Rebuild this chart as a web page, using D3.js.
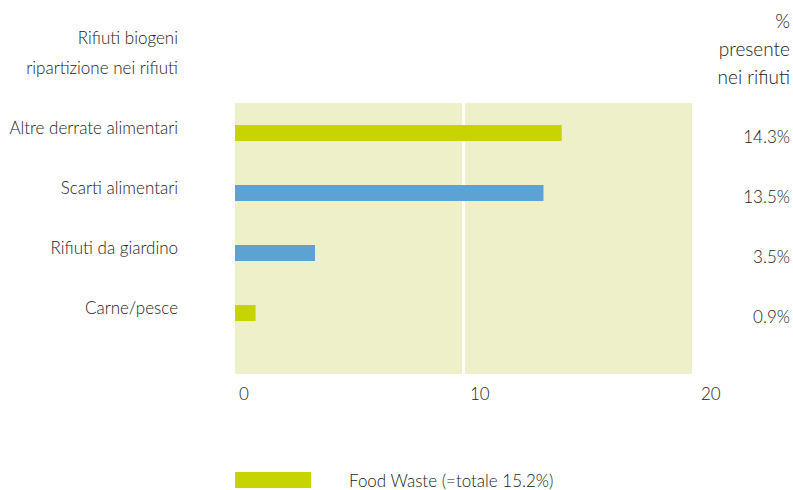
<!DOCTYPE html>
<html><head><meta charset="utf-8">
<script src="https://cdn.jsdelivr.net/npm/d3@7"></script>
<style>body{margin:0;background:#fff}text{font-family:Lato,"Open Sans",sans-serif;font-weight:300;fill:#222;font-size:17px}</style>
</head><body><svg id="c" width="793" height="490"></svg>
<script>
const categories = ["Altre derrate alimentari","Scarti alimentari","Rifiuti da giardino","Carne/pesce"];
const values = [14.3, 13.5, 3.5, 0.9];
const valueLabels = ["14.3%","13.5%","3.5%","0.9%"];
const isFoodWaste = [true, false, false, true];
const xTicks = [0, 10, 20];
const legendLabel = "Food Waste (=totale 15.2%)";
const headerLeft = ["Rifiuti biogeni","ripartizione nei rifiuti"];
const headerRight = ["%","presente","nei rifiuti"];

const GREEN="#c8d400", BLUE="#5ca2d3", BG="#edf0c8";
const svg = d3.select("#c");
const x = d3.scaleLinear().domain([0,20]).range([235,692]);
const y = d3.scaleBand().domain(categories).range([103,343]).padding(0);
const plotBottom = 374, barH = 16;

svg.append("rect").attr("x",x(0)).attr("y",103).attr("width",x(20)-x(0)).attr("height",plotBottom-103).attr("fill",BG);
svg.selectAll("line.grid").data(xTicks.filter(t=>t>0&&t<20)).enter().append("line")
  .attr("x1",d=>x(d)).attr("x2",d=>x(d)).attr("y1",103).attr("y2",plotBottom)
  .attr("stroke","#fff").attr("stroke-width",3);

svg.selectAll("rect.bar").data(categories).enter().append("rect")
  .attr("x",x(0)).attr("y",d=>y(d)+y.bandwidth()/2-barH/2)
  .attr("width",(d,i)=>x(values[i])-x(0)).attr("height",barH)
  .attr("fill",(d,i)=>isFoodWaste[i]?GREEN:BLUE);

svg.selectAll("text.cat").data(categories).enter().append("text")
  .attr("x",178).attr("y",d=>y(d)+y.bandwidth()/2+1).attr("text-anchor","end").text(d=>d);
svg.selectAll("text.val").data(categories).enter().append("text")
  .attr("x",790).attr("y",d=>y(d)+y.bandwidth()/2+10).attr("text-anchor","end").text((d,i)=>valueLabels[i]);

svg.selectAll("text.tick").data(xTicks).enter().append("text")
  .attr("x",d=>x(d)+4+d*0.25).attr("y",400).attr("text-anchor","start").text(d=>d);

headerLeft.forEach((t,i)=>svg.append("text").attr("x",178).attr("y",44+i*30).attr("text-anchor","end").text(t));
headerRight.forEach((t,i)=>svg.append("text").attr("x",790).attr("y",28+i*28).attr("text-anchor","end").style("font-size","19px").text(t));

svg.append("rect").attr("x",235).attr("y",472).attr("width",76).attr("height",16).attr("fill",GREEN);
svg.append("text").attr("x",349).attr("y",487).text(legendLabel);
</script></body></html>
